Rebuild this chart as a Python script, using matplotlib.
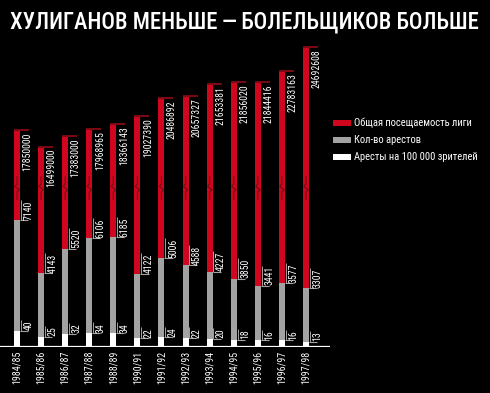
import os
import matplotlib
matplotlib.use('Agg')
import matplotlib.pyplot as plt
from matplotlib import font_manager as fm
from matplotlib.patches import Patch
import matplotlib.transforms as mtransforms

seasons = ['1984/85', '1985/86', '1986/87', '1987/88', '1988/89', '1990/91', '1991/92',
           '1992/93', '1993/94', '1994/95', '1995/96', '1996/97', '1997/98']
attendance = [17850000, 16499000, 17383000, 17968965, 18366143, 19027390, 20486892,
              20657327, 21653381, 21856020, 21844416, 22783163, 24692608]
arrests = [7140, 4143, 5520, 6106, 6185, 4122, 5006, 4588, 4227, 3850, 3441, 3577, 3307]
per100k = [40, 25, 32, 34, 34, 22, 24, 22, 20, 18, 16, 16, 13]
title = 'ХУЛИГАНОВ МЕНЬШЕ\u2009—\u2009БОЛЕЛЬЩИКОВ БОЛЬШЕ'
legend_labels = ['Общая посещаемость лиги', 'Кол-во арестов', 'Аресты на 100 000 зрителей']

RED = '#d0061e'
DARKRED = '#7c0a12'
GRAY = '#a2a2a2'
WHITE = '#ffffff'

# ---- pick a condensed font file if one is installed ----
allfiles = set(f.fname for f in fm.fontManager.ttflist)
try:
    allfiles |= set(fm.findSystemFonts())
except Exception:
    pass
bybase = {}
for p in allfiles:
    bybase.setdefault(os.path.basename(p).lower(), p)

def pick(cands):
    for c in cands:
        if c.lower() in bybase:
            return fm.FontProperties(fname=bybase[c.lower()])
    return None

REG = pick(['NotoSans-ExtraCondensed.ttf', 'RobotoCondensed-Regular.ttf', 'NotoSans-Condensed.ttf',
            'LiberationSansNarrow-Regular.ttf', 'DejaVuSansCondensed.ttf'])
BLD = pick(['NotoSans-ExtraCondensedMedium.ttf', 'NotoSans-ExtraCondensedSemiBold.ttf',
            'RobotoCondensed-Medium.ttf', 'RobotoCondensed-Regular.ttf', 'NotoSans-CondensedMedium.ttf',
            'LiberationSansNarrow-Regular.ttf', 'DejaVuSansCondensed.ttf'])
if REG is None:
    REG = fm.FontProperties(family='DejaVu Sans', stretch='condensed')
if BLD is None:
    BLD = REG

W, H = 490, 393
fig = plt.figure(figsize=(W / 100, H / 100), dpi=100, facecolor='black')
renderer = fig.canvas.get_renderer()

def text_px(text, fp, fs):
    t = fig.text(0, 0, text, fontproperties=fp, fontsize=fs)
    w = t.get_window_extent(renderer=renderer).width
    t.remove()
    return w

def size_for(text, fp, target_px):
    return 10 * target_px / text_px(text, fp, 10)

left, right = 0, 330
base, top = 347, 40
ax = fig.add_axes([left / W, (H - base) / H, (right - left) / W, (base - top) / H])
ax2 = ax.twinx()
ax3 = ax.twinx()

xs = list(range(len(seasons)))
step = 24.08
x0 = -17 / step
ax.set_xlim(x0, x0 + (right - left) / step)
bw = 6 / step
hpx = base - top
s_att, s_arr, s_per = 1.213e-5, 0.01779, 0.41   # px per unit
ax.set_ylim(0, hpx / s_att)
ax2.set_ylim(0, hpx / s_arr)
ax3.set_ylim(0, hpx / s_per)

for a in (ax, ax2, ax3):
    for s in a.spines.values():
        s.set_visible(False)
    a.tick_params(left=False, right=False, labelleft=False, labelright=False)
    a.patch.set_visible(False)

ax.bar(xs, attendance, width=bw, color=RED, align='center', zorder=2)
ax2.bar(xs, arrests, width=bw, color=GRAY, align='center', zorder=2)
ax3.bar(xs, per100k, width=bw, color=WHITE, align='center', zorder=2)

lab_fs = size_for('17850000', REG, 38)
ext = 9 / step
for x, v in zip(xs, attendance):
    ax.plot([x - bw / 2, x + bw / 2 + ext], [v, v], color=DARKRED, lw=1.4, solid_capstyle='butt', zorder=3)
    ax.annotate(f'{v}', (x + bw / 2, v), xytext=(1.8, -1.5), textcoords='offset points',
                rotation=90, ha='left', va='top', color='white', fontsize=lab_fs, fontproperties=REG)

def small_labels(a, vals, scale):
    for x, v in zip(xs, vals):
        L = text_px(str(v), REG, lab_fs) + 1
        xr = x + bw / 2
        a.plot([xr, xr + ext * 0.9], [v, v], color=GRAY, lw=0.8, solid_capstyle='butt', zorder=3)
        a.plot([xr + 0.8 / step] * 2, [v, v + L / scale], color=GRAY, lw=0.7,
               solid_capstyle='butt', zorder=3)
        a.annotate(f'{v}', (xr, v), xytext=(2.4, 0.3), textcoords='offset points',
                   rotation=90, ha='left', va='bottom', color='white', fontsize=lab_fs, fontproperties=REG)

small_labels(ax2, arrests, s_arr)
small_labels(ax3, per100k, s_per)

# break marks on red bars
trans = mtransforms.blended_transform_factory(ax.transData, ax.transAxes)
def fy(py):
    return (base - py) / hpx
for x in xs:
    dx = 2.2 / step
    ax3.plot([x, x, x - dx, x + dx, x, x],
             [fy(177), fy(184), fy(186.5), fy(189.5), fy(192), fy(199)],
             color=DARKRED, lw=0.9, transform=trans, zorder=4)

ax3.axhline(0, color='white', lw=1.6, zorder=5)

yr_fs = size_for('1984/85', REG, 33)
ax.set_xticks(xs)
ax.set_xticklabels(seasons, rotation=90, color='white', fontproperties=REG, fontsize=yr_fs)
ax.tick_params(axis='x', length=0, pad=2.5)

leg_fs = size_for(legend_labels[2], REG, 123)
lp = REG.copy()
lp.set_size(leg_fs)
em = leg_fs * 100 / 72
handles = [Patch(facecolor=c, edgecolor='none') for c in (RED, GRAY, WHITE)]
leg = fig.legend(handles, legend_labels, loc='upper left', bbox_to_anchor=(331 / W, 1 - 116 / H),
                 frameon=False, handlelength=18 / em, handleheight=5 / em,
                 handletextpad=3 / em, labelspacing=7 / em,
                 borderpad=0.2, borderaxespad=0, prop=lp)
for t in leg.get_texts():
    t.set_color('white')

t_fs = size_for(title, BLD, 469)
fig.text(10 / W, 1 - 22 / H, title, color='white', ha='left', va='center',
         fontproperties=BLD, fontsize=t_fs)

fig.savefig('out.png', dpi=100, facecolor='black')
